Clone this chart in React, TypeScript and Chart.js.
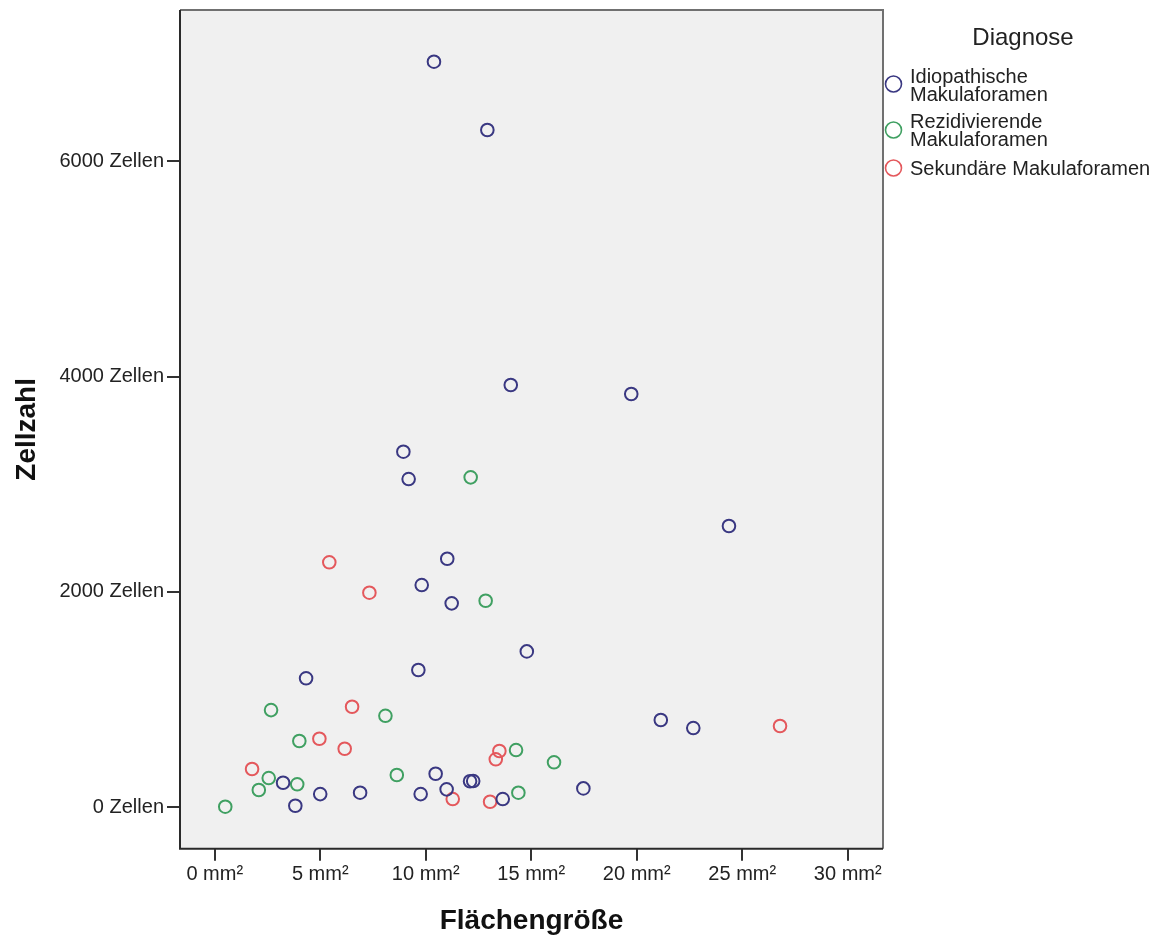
import React, { useEffect, useRef } from "react";
import { Chart, registerables } from "chart.js";

Chart.register(...registerables);

// ---- Data (Flächengröße in mm², Zellzahl) ----
const idiopathischeX = [10.39, 12.92, 14.03, 19.74, 8.94, 9.19, 24.37, 11.02, 9.81, 11.23, 14.79, 9.65, 4.33, 21.14, 22.68, 10.47, 12.1, 12.25, 3.24, 10.99, 17.47, 5.0, 6.89, 9.76, 13.65, 3.82];
const idiopathischeY = [6923, 6289, 3921, 3838, 3302, 3048, 2612, 2308, 2064, 1894, 1448, 1275, 1198, 811, 736, 312, 242, 244, 228, 167, 176, 123, 136, 123, 77, 15];

const rezidivierendeX = [12.13, 12.84, 2.67, 8.09, 4.01, 14.28, 16.08, 8.63, 2.56, 3.91, 2.09, 14.39, 0.5];
const rezidivierendeY = [3064, 1918, 903, 850, 616, 532, 418, 300, 272, 214, 161, 136, 6];

const sekundaereX = [5.43, 7.33, 6.51, 26.79, 4.96, 6.16, 13.49, 13.32, 1.77, 11.28, 13.05];
const sekundaereY = [2275, 1993, 934, 755, 637, 544, 523, 446, 356, 77, 52];

const xTicks = [0, 5, 10, 15, 20, 25, 30];
const yTicks = [0, 2000, 4000, 6000];

const legendTitle = "Diagnose";
const seriesLabels = [
  ["Idiopathische", "Makulaforamen"],
  ["Rezidivierende", "Makulaforamen"],
  ["Sekundäre Makulaforamen"],
];
const seriesColors = ["rgb(58,56,130)", "rgb(64,160,98)", "rgb(228,88,92)"];

const xTitle = "Flächengröße";
const yTitle = "Zellzahl";

const FONT = "'Liberation Sans', Arial, sans-serif";

function toPoints(xs: number[], ys: number[]) {
  return xs.map((x, i) => ({ x, y: ys[i] }));
}

const decorPlugin = {
  id: "decor",
  beforeDraw(chart: any) {
    const { ctx, chartArea: a } = chart;
    ctx.save();
    ctx.fillStyle = "#f0f0f0";
    ctx.fillRect(a.left, a.top, a.right - a.left, a.bottom - a.top);
    ctx.restore();
  },
  afterDraw(chart: any) {
    const { ctx, chartArea: a } = chart;
    ctx.save();
    // frame
    ctx.lineWidth = 2;
    ctx.strokeStyle = "#707070";
    ctx.beginPath();
    ctx.moveTo(a.left, a.top);
    ctx.lineTo(a.right, a.top);
    ctx.lineTo(a.right, a.bottom);
    ctx.stroke();
    ctx.strokeStyle = "#2a2a2a";
    ctx.beginPath();
    ctx.moveTo(a.left, a.top);
    ctx.lineTo(a.left, a.bottom);
    ctx.lineTo(a.right, a.bottom);
    ctx.stroke();

    // axis titles
    ctx.fillStyle = "#111";
    ctx.font = `bold 28px ${FONT}`;
    ctx.textAlign = "center";
    ctx.textBaseline = "alphabetic";
    ctx.fillText(xTitle, (a.left + a.right) / 2, 929);
    ctx.save();
    ctx.translate(35, (a.top + a.bottom) / 2);
    ctx.rotate(-Math.PI / 2);
    ctx.fillText(yTitle, 0, 0);
    ctx.restore();

    // legend
    ctx.font = `24px ${FONT}`;
    ctx.fillStyle = "#222";
    ctx.textAlign = "center";
    ctx.fillText(legendTitle, 1023, 45);
    ctx.font = `20px ${FONT}`;
    ctx.textAlign = "left";
    const markerY = [84, 130, 168];
    const baselines = [[83, 101], [128, 146], [175]];
    seriesLabels.forEach((lines, i) => {
      ctx.strokeStyle = seriesColors[i];
      ctx.lineWidth = 1.6;
      ctx.beginPath();
      ctx.arc(893.5, markerY[i], 8, 0, Math.PI * 2);
      ctx.stroke();
      ctx.fillStyle = "#222";
      lines.forEach((t, j) => ctx.fillText(t, 910, baselines[i][j]));
    });
    ctx.restore();
  },
};

export default function App() {
  const ref = useRef<HTMLCanvasElement>(null);
  useEffect(() => {
    if (!ref.current) return;
    const mk = (label: string, xs: number[], ys: number[], color: string) => ({
      label,
      data: toPoints(xs, ys),
      borderColor: color,
      backgroundColor: "rgba(0,0,0,0)",
      pointRadius: 6.3,
      pointBorderWidth: 2,
      pointHoverRadius: 6.3,
    });
    const chart = new Chart(ref.current, {
      type: "scatter",
      data: {
        datasets: [
          mk(seriesLabels[0].join(" "), idiopathischeX, idiopathischeY, seriesColors[0]),
          mk(seriesLabels[1].join(" "), rezidivierendeX, rezidivierendeY, seriesColors[1]),
          mk(seriesLabels[2].join(" "), sekundaereX, sekundaereY, seriesColors[2]),
        ],
      },
      options: {
        responsive: false,
        devicePixelRatio: 1,
        animation: false,
        layout: { padding: { top: 10, right: 283, left: 0, bottom: 0 } },
        plugins: { legend: { display: false }, tooltip: { enabled: false } },
        scales: {
          x: {
            type: "linear",
            min: -1.645,
            max: 31.67,
            afterBuildTicks: (s: any) => {
              s.ticks = xTicks.map((v) => ({ value: v }));
            },
            afterFit: (s: any) => {
              s.height = 93.3;
              s.paddingLeft = 0;
              s.paddingRight = 0;
            },
            border: { display: false },
            grid: { drawOnChartArea: false, drawTicks: true, tickLength: 12, color: "#333", lineWidth: 2 },
            ticks: {
              padding: 2,
              color: "#222",
              font: { family: FONT, size: 20 },
              maxRotation: 0,
              autoSkip: false,
              callback: (v: any) => `${v} mm²`,
            },
          },
          y: {
            type: "linear",
            min: -384,
            max: 7403,
            afterBuildTicks: (s: any) => {
              s.ticks = yTicks.map((v) => ({ value: v }));
            },
            afterFit: (s: any) => {
              s.width = 180;
              s.paddingTop = 0;
              s.paddingBottom = 0;
            },
            border: { display: false },
            grid: { drawOnChartArea: false, drawTicks: true, tickLength: 13, color: "#333", lineWidth: 2 },
            ticks: {
              padding: 3,
              color: "#222",
              font: { family: FONT, size: 20 },
              autoSkip: false,
              callback: (v: any) => `${v} Zellen`,
            },
          },
        },
      },
      plugins: [decorPlugin],
    });
    return () => chart.destroy();
  }, []);
  return (
    <div style={{ position: "absolute", left: 0, top: 0, width: 1166, height: 942, background: "#fff" }}>
      <canvas ref={ref} width={1166} height={942} style={{ width: 1166, height: 942, display: "block" }} />
    </div>
  );
}
